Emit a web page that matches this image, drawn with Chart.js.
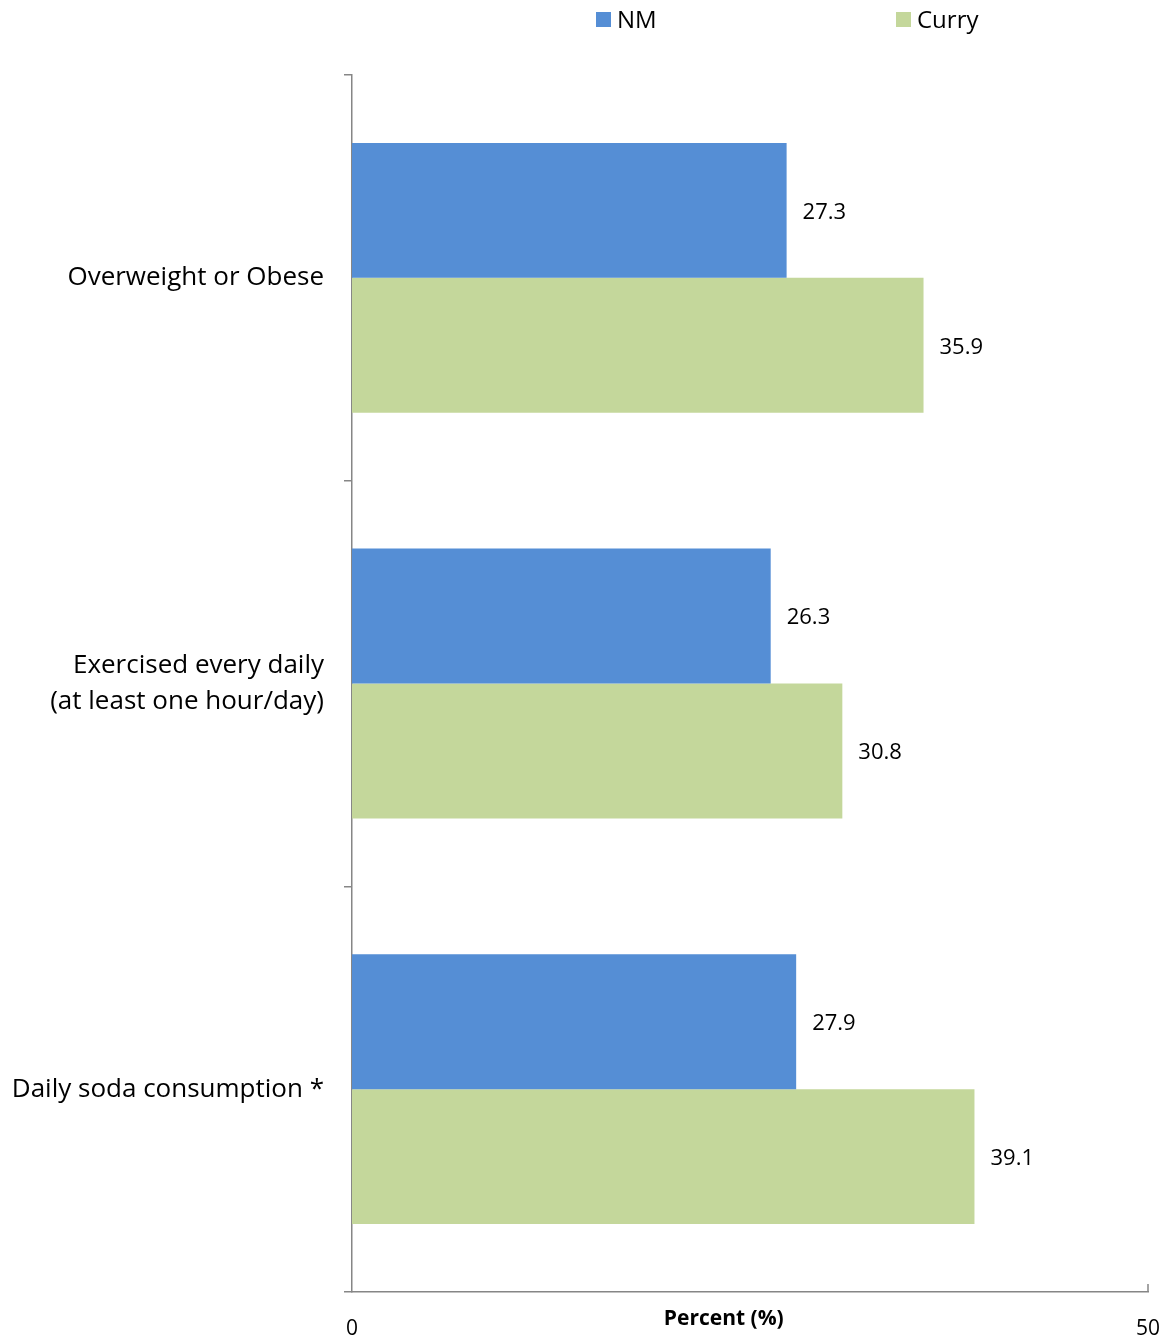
<!DOCTYPE html>
<html>
<head>
<meta charset="utf-8">
<script src="https://cdn.jsdelivr.net/npm/chart.js@4.4.0/dist/chart.umd.min.js"></script>
<style>
  html, body { margin: 0; padding: 0; background: #fff; }
  #wrap { width: 1169px; height: 1336px; }
</style>
</head>
<body>
<div id="wrap"><canvas id="myBarChart" width="1169" height="1336"></canvas></div>
<script>
// categories and values
var categories = [
    'Overweight or Obese',
    ['Exercised every daily', '(at least one hour/day)'],
    'Daily soda consumption *'
];
var nmValues = [27.3, 26.3, 27.9];
var curryValues = [35.9, 30.8, 39.1];
var xTicks = [0, 50];

var blue = '#558ED5';
var green = '#C4D79B';
var axisGray = '#868686';
var fontName = '"Open Sans", "Noto Sans", sans-serif';

// 数值标签 + 图例 + 坐标轴标题
var extras = {
    id: 'extras',
    afterDatasetsDraw: function (chart) {
        var ctx = chart.ctx;
        var area = chart.chartArea;
        var xs = chart.scales.x;
        ctx.save();
        ctx.fillStyle = '#000';
        ctx.font = '22px ' + fontName;
        ctx.textBaseline = 'middle';
        ctx.textAlign = 'left';
        chart.data.datasets.forEach(function (ds, i) {
            chart.getDatasetMeta(i).data.forEach(function (bar, j) {
                ctx.fillText(ds.data[j].toFixed(1), bar.x + 16, bar.y + 2);
            });
        });

        // small inside tick at right end of x axis
        ctx.strokeStyle = axisGray;
        ctx.lineWidth = 1.5;
        var rx = xs.getPixelForValue(50);
        ctx.beginPath();
        ctx.moveTo(rx, area.bottom);
        ctx.lineTo(rx, area.bottom - 8);
        ctx.stroke();

        // axis title
        ctx.font = 'bold 21px ' + fontName;
        ctx.textAlign = 'center';
        ctx.fillText('Percent (%)', area.left + (area.right - area.left) * 0.467, area.bottom + 27);

        // legend
        ctx.font = '24px ' + fontName;
        ctx.textAlign = 'left';
        var legendItems = [
            { label: 'NM', color: blue, x: 596 },
            { label: 'Curry', color: green, x: 896 }
        ];
        legendItems.forEach(function (it) {
            ctx.fillStyle = it.color;
            ctx.fillRect(it.x, 12, 15, 15);
            ctx.fillStyle = '#000';
            ctx.fillText(it.label, it.x + 21, 21);
        });
        ctx.restore();
    }
};

document.addEventListener('DOMContentLoaded', function () {
    var ctx = document.getElementById('myBarChart').getContext('2d');
    new Chart(ctx, {
        type: 'bar',
        data: {
            labels: categories,
            datasets: [{
                label: 'NM',
                data: nmValues,
                backgroundColor: blue,
                barPercentage: 1,
                categoryPercentage: 0.665
            }, {
                label: 'Curry',
                data: curryValues,
                backgroundColor: green,
                barPercentage: 1,
                categoryPercentage: 0.665
            }]
        },
        options: {
            indexAxis: 'y',
            responsive: false,
            animation: false,
            layout: {
                padding: { top: 75, right: 21, bottom: 0, left: 0 }
            },
            scales: {
                x: {
                    min: 0,
                    max: 50,
                    afterBuildTicks: function (scale) {
                        scale.ticks = xTicks.map(function (v) { return { value: v }; });
                    },
                    afterFit: function (scale) {
                        scale.height = 44;
                        scale.paddingRight = 0;
                        scale.paddingLeft = 0;
                    },
                    grid: { display: false },
                    border: { display: true, color: axisGray, width: 1.5 },
                    ticks: {
                        color: '#000',
                        padding: 16,
                        maxRotation: 0,
                        font: { family: fontName, size: 21 }
                    }
                },
                y: {
                    afterFit: function (scale) { scale.width = 352; },
                    grid: {
                        display: true,
                        drawOnChartArea: false,
                        offset: true,
                        tickLength: 8,
                        color: axisGray,
                        lineWidth: 1.5
                    },
                    border: { display: true, color: axisGray, width: 1.5 },
                    ticks: {
                        color: '#000',
                        padding: 20,
                        font: { family: fontName, size: 26, lineHeight: 1.4 }
                    }
                }
            },
            plugins: {
                legend: { display: false },
                tooltip: { enabled: false }
            }
        },
        plugins: [extras]
    });
});
</script>
</body>
</html>
